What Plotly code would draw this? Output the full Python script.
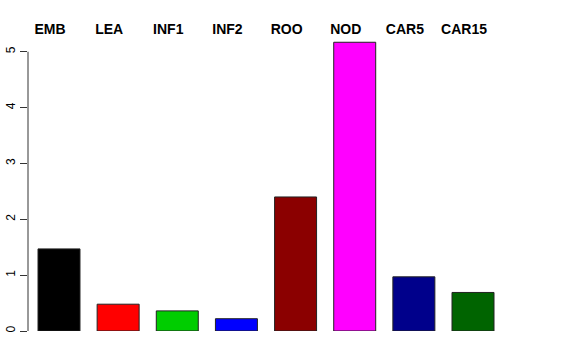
import plotly.graph_objects as go

categories = ["EMB", "LEA", "INF1", "INF2", "ROO", "NOD", "CAR5", "CAR15"]
values = [1.47, 0.48, 0.36, 0.22, 2.40, 5.17, 0.97, 0.69]
colors = ["#000000", "#FF0000", "#00CD00", "#0000FF", "#8B0000", "#FF00FF", "#00008B", "#006400"]
y_ticks = [0, 1, 2, 3, 4, 5]

fig = go.Figure()
fig.add_trace(go.Bar(
    x=list(range(len(categories))),
    y=values,
    marker=dict(color=colors, line=dict(color="#222222", width=1)),
    width=0.71,
    hoverinfo="skip",
))

fig.update_layout(
    width=576, height=360,
    margin=dict(l=28, r=576 - 504, t=35, b=360 - 331, autoexpand=False),
    paper_bgcolor="white", plot_bgcolor="white",
    showlegend=False,
    font=dict(family="Liberation Sans, Arial, sans-serif", color="black", size=12),
    xaxis=dict(
        range=[-0.524, 7.524],
        side="top",
        tickmode="array",
        tickvals=list(range(len(categories))),
        ticktext=["<b>%s</b>" % c for c in categories],
        ticks="", showline=False, showgrid=False, zeroline=False,
        tickfont=dict(size=14, family="Liberation Sans, Arial, sans-serif"),
        ticklabelstandoff=-3,
        ticklabelshift=-9,
        automargin=False,
    ),
    yaxis=dict(
        range=[0, 5.3],
        tickmode="array",
        tickvals=y_ticks,
        ticktext=[str(t) for t in y_ticks],
        ticks="outside", ticklen=7, tickcolor="#333333", tickwidth=1,
        showline=False, showgrid=False, zeroline=False,
        tickangle=-90,
        tickfont=dict(size=12),
        automargin=False,
    ),
    shapes=[dict(type="line", xref="paper", yref="y", x0=0, x1=0,
                 y0=min(y_ticks), y1=max(y_ticks),
                 line=dict(color="#333333", width=1))],
)

fig.write_html("out.html")
